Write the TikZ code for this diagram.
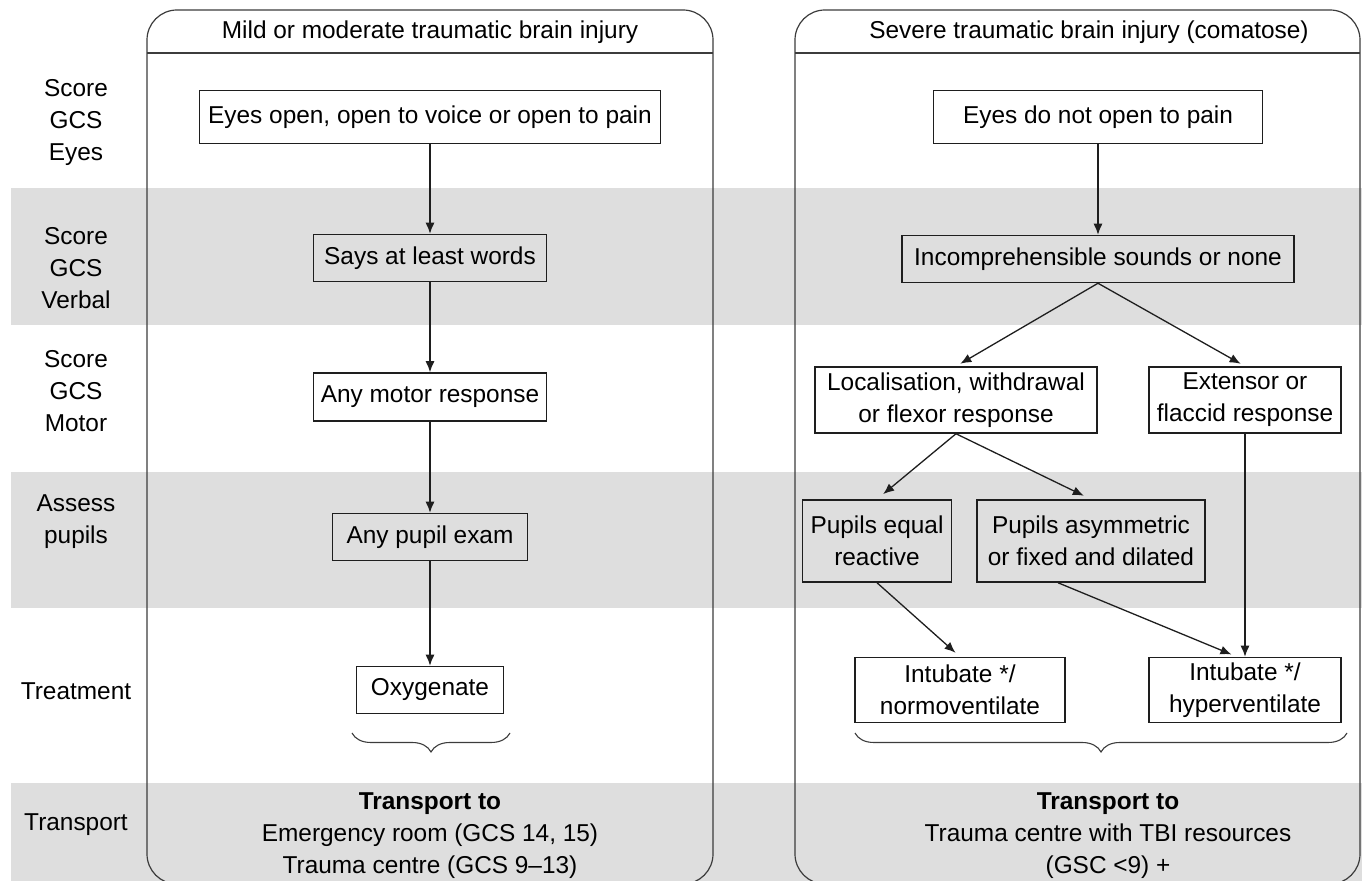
\documentclass[tikz,border=0pt]{standalone}
\usepackage{fontspec}
\setmainfont{Liberation Sans}
\usepackage{xcolor}
\usetikzlibrary{shapes,arrows.meta,decorations.pathreplacing}
\definecolor{bandgray}{HTML}{DEDEDE}
\definecolor{inkgray}{HTML}{1E1E1E}
\definecolor{rimgray}{HTML}{3C3C3C}
\tikzset{
  box/.style={draw=inkgray, line width=0.75pt, inner sep=0pt, align=center},
  rowlabel/.style={align=center},
  panel/.style={draw=rimgray, line width=0.6pt, rounded corners=15pt},
  flow/.style={->, draw=inkgray, line width=0.65pt},
  curly/.style={draw=rimgray, line width=0.55pt, decorate,
    decoration={brace, mirror, amplitude=9.5pt}},
  >={Latex[length=5.5pt,width=4.5pt]}
}

\begin{document}
\begin{tikzpicture}[x=0.5pt, y=-0.5pt, font=\fontsize{12.2}{16}\selectfont]
     \useasboundingbox (0,0) rectangle (1362,881);
     % grey rows
     \fill [bandgray] (11,188) rectangle (1362,325);
     \fill [bandgray] (11,472) rectangle (1362,608);
     \fill [bandgray] (11,783) rectangle (1362,881);
     % the two columns
     \draw [panel] (147,10) rectangle (713,884);
     \draw [panel] (795,10) rectangle (1360,884);
     \draw [draw=rimgray, line width=0.6pt] (147,53) -- (713,53);
     \draw [draw=rimgray, line width=0.6pt] (795,53) -- (1360,53);
     \node (hmild) at (430,32) {Mild or moderate traumatic brain injury};
     \node (hsevere) at (1089,32) {Severe traumatic brain injury (comatose)};
     % row labels
     \node [rowlabel] (leyes) at (76,123) {Score\\GCS\\Eyes};
     \node [rowlabel] (lverbal) at (76,268) {Score\\GCS\\Verbal};
     \node [rowlabel] (lmotor) at (76,391) {Score\\GCS\\Motor};
     \node [rowlabel] (lpupils) at (76,522) {Assess\\pupils};
     \node [rowlabel] (ltreat) at (76,691) {Treatment};
     \node [rowlabel] (ltrans) at (76,825) {Transport};
     % mild or moderate
     \node [box, minimum width=230.5pt, minimum height=26.5pt] (meyes) at (430,117) {Eyes open, open to voice or open to pain};
     \node [box, minimum width=116.5pt, minimum height=23.5pt] (mverbal) at (430,258) {Says at least words};
     \node [box, minimum width=116.5pt, minimum height=24pt] (mmotor) at (430,397) {Any motor response};
     \node [box, minimum width=97.5pt, minimum height=23.5pt] (mpupil) at (430,537) {Any pupil exam};
     \node [box, minimum width=73.5pt, minimum height=23.5pt] (moxy) at (430,690) {Oxygenate};
     \draw [flow] (meyes) -- (mverbal);
     \draw [flow] (mverbal) -- (mmotor);
     \draw [flow] (mmotor) -- (mpupil);
     \draw [flow] (mpupil) -- (moxy);
     \draw [curly] (352,733) -- (510,733);
     \node [align=center] (mtrans) at (430,836) {\textbf{Transport to}\\Emergency room (GCS 14, 15)\\Trauma centre (GCS 9--13)};
     % severe
     \node [box, minimum width=164.5pt, minimum height=26.5pt] (seyes) at (1098,117) {Eyes do not open to pain};
     \node [box, minimum width=196pt, minimum height=23.5pt] (sverbal) at (1098,259) {Incomprehensible sounds or none};
     \node [box, minimum width=141pt, minimum height=33pt] (sloc) at (956,400) {Localisation, withdrawal\\or flexor response};
     \node [box, minimum width=96pt, minimum height=33pt] (sext) at (1245,400) {Extensor or\\flaccid response};
     \node [box, minimum width=74.5pt, minimum height=41pt] (sequal) at (877,541) {Pupils equal\\reactive};
     \node [box, minimum width=114pt, minimum height=41pt] (sasym) at (1091,541) {Pupils asymmetric\\or fixed and dilated};
     \node [box, minimum width=105pt, minimum height=32.5pt] (snormo) at (960,690) {Intubate */\\normoventilate};
     \node [box, minimum width=96pt, minimum height=32.5pt] (shyper) at (1245,690) {Intubate */\\hyperventilate};
     \draw [flow] (seyes) -- (sverbal);
     \draw [flow, shorten >=2.5pt] (sverbal.south) -- (sloc.north);
     \draw [flow, shorten >=2.5pt] (sverbal.south) -- (sext.north);
     \draw [flow, shorten >=4pt] (sloc.south) -- (sequal.north);
     \draw [flow, shorten >=4pt] (sloc.south) -- (sasym.north);
     \draw [flow, shorten >=3pt] (sequal.south) -- (snormo.north);
     \draw [flow, shorten >=3pt] ([xshift=-16.5pt]sasym.south) -- ([xshift=-4pt]shyper.north);
     \draw [flow] (sext) -- (shyper);
     \draw [curly] (855,733) -- (1347,733);
     \node [align=center] (strans) at (1108,836) {\textbf{Transport to}\\Trauma centre with TBI resources\\(GSC <9) +};
\end{tikzpicture}
\end{document}
